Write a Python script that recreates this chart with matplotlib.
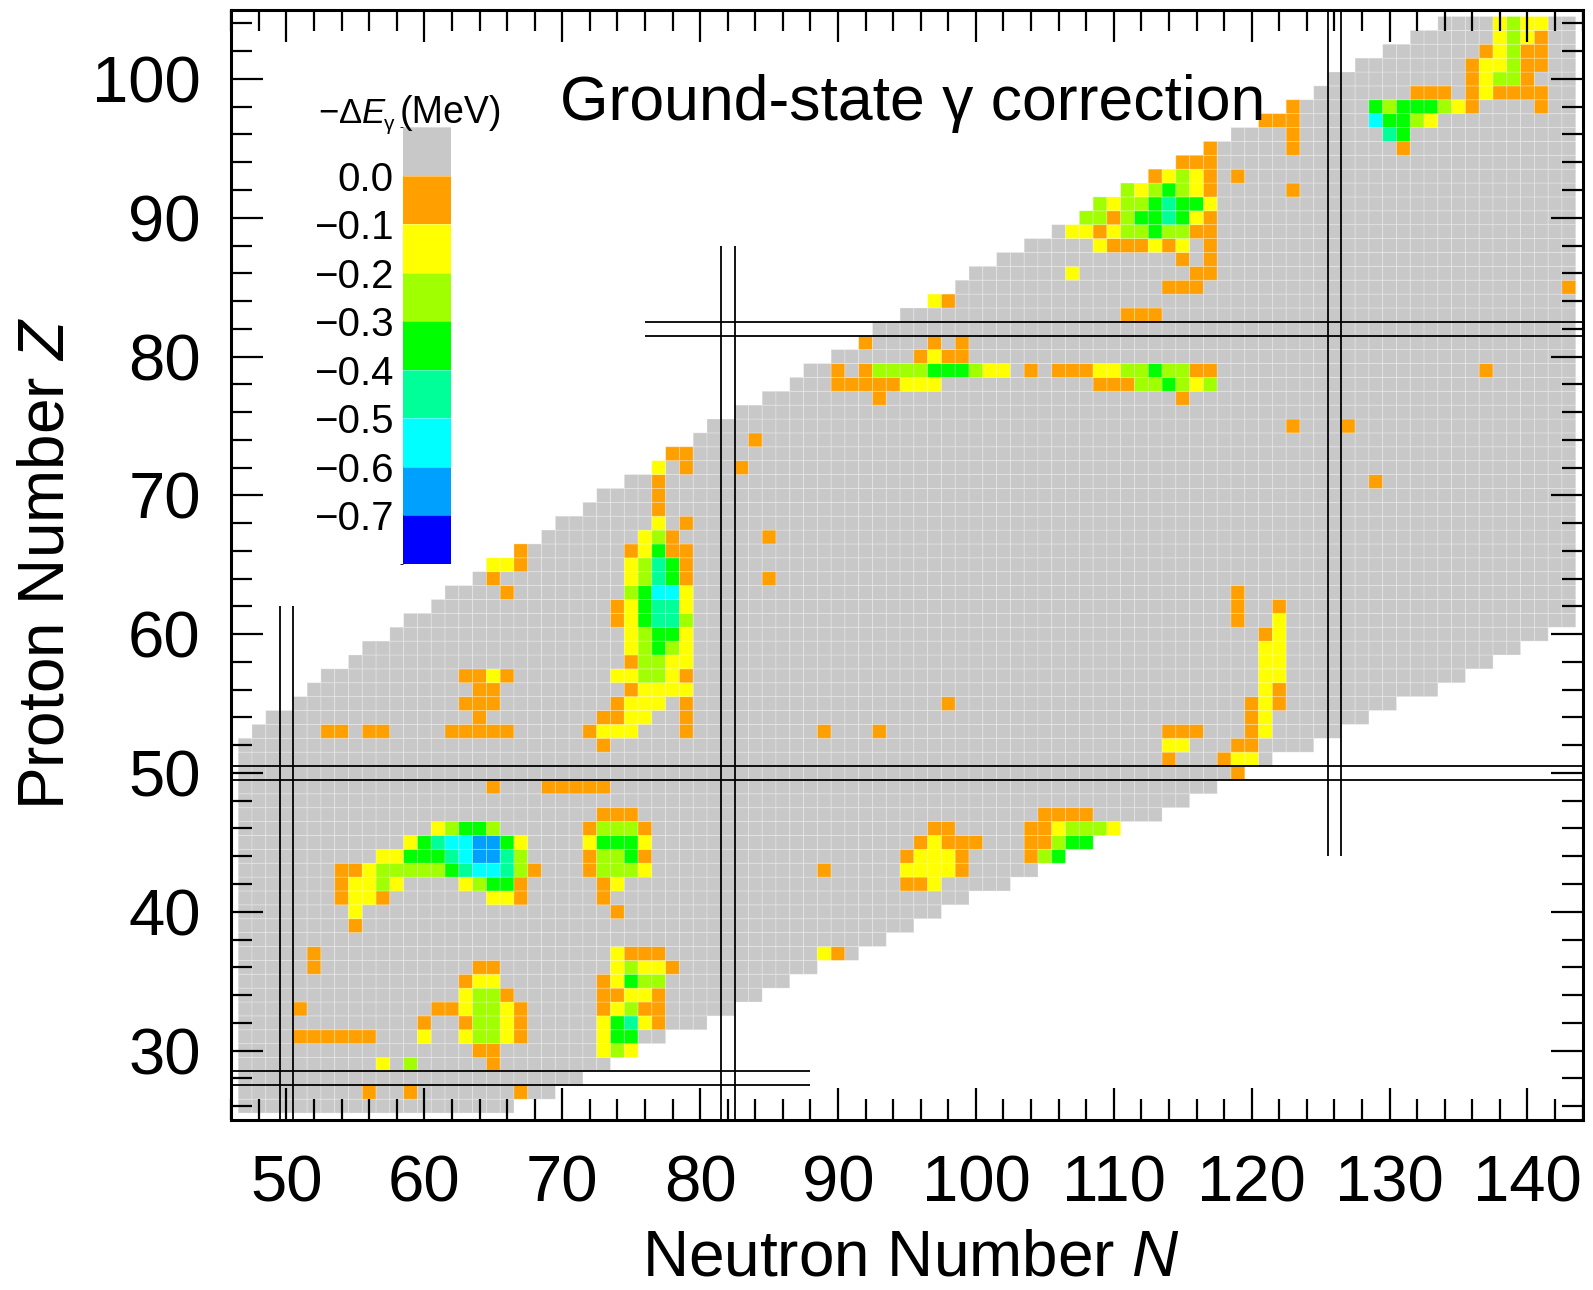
import numpy as np
import matplotlib
matplotlib.use("Agg")
import matplotlib.pyplot as plt
from matplotlib.colors import ListedColormap, BoundaryNorm
from matplotlib.cm import ScalarMappable
from matplotlib.ticker import MultipleLocator

plt.rcParams['font.family'] = ['Liberation Sans', 'DejaVu Sans']
plt.rcParams['mathtext.fontset'] = 'custom'
plt.rcParams['mathtext.rm'] = 'Liberation Sans'
plt.rcParams['mathtext.it'] = 'Liberation Sans:italic'
plt.rcParams['mathtext.bf'] = 'Liberation Sans:bold'

# ---------------- data ----------------
# nuclei present in the chart: for each proton number Z, first and last N
z_rows = list(range(26, 105))
n_first = [47] * 27 + [48, 49, 51, 52, 53, 55, 56, 58, 59, 61, 62, 64, 65, 67, 69, 70,
                       72, 73, 75, 77, 78, 80, 81, 83, 85, 87, 88, 90, 92, 93, 95, 97,
                       99, 100, 102, 104, 106, 108, 109, 111, 113, 115, 117, 119, 121,
                       123, 125, 126, 128, 130, 132, 134]
n_last = [66, 69, 71, 73, 75, 77, 80, 82, 84, 86, 88, 91, 93, 95, 97, 99, 102, 104, 106,
          108, 110, 113, 115, 117, 119, 121, 124, 126, 128, 130, 133, 135, 137, 139, 141] + [143] * 44

# correction level per nucleus (1: 0..-0.1, 2: -0.1..-0.2, ... 8: -0.7..-0.8), runs along N
seg_z = [27, 27, 27, 29, 29, 29, 30, 30, 31, 31, 31, 31, 32, 32, 32, 33, 33, 33, 34, 34,
         35, 35, 36, 36, 36, 37, 37, 37, 39, 40, 40, 41, 41, 41, 42, 42, 42, 42, 43, 43,
         43, 43, 44, 44, 44, 44, 45, 45, 45, 45, 46, 46, 46, 46, 47, 47, 49, 49, 50, 51,
         51, 52, 52, 52, 53, 53, 53, 53, 53, 53, 53, 53, 53, 54, 54, 54, 54, 55, 55, 55,
         55, 55, 56, 56, 56, 57, 57, 57, 58, 58, 59, 59, 60, 60, 61, 61, 61, 62, 62, 62,
         63, 63, 63, 64, 64, 64, 65, 65, 66, 66, 67, 67, 68, 68, 69, 70, 71, 71, 72, 72,
         72, 73, 74, 75, 75, 77, 77, 78, 78, 79, 79, 79, 79, 79, 80, 81, 81, 81, 83, 84,
         85, 85, 86, 86, 87, 87, 88, 88, 89, 90, 91, 92, 92, 93, 93, 94, 95, 95, 95, 96,
         96, 97, 97, 98, 98, 98, 99, 99, 100, 101, 102, 103, 104]
seg_n = [56, 59, 67, 57, 59, 65, 64, 73, 51, 60, 63, 73, 60, 63, 73, 51, 61, 73, 63, 73,
         63, 73, 52, 64, 74, 52, 74, 89, 55, 55, 74, 54, 65, 73, 54, 63, 73, 95, 54, 72,
         89, 95, 57, 72, 95, 104, 59, 72, 96, 104, 61, 72, 97, 104, 73, 105, 65, 69, 119, 114,
         118, 73, 114, 119, 53, 56, 62, 72, 79, 89, 93, 114, 120, 64, 73, 79, 120, 63, 74, 79,
         98, 120, 64, 75, 121, 63, 74, 121, 75, 121, 75, 121, 75, 121, 74, 119, 122, 74, 119, 122,
         66, 75, 119, 65, 75, 85, 65, 75, 67, 75, 76, 85, 77, 79, 77, 77, 77, 129, 77, 79,
         83, 78, 84, 123, 127, 93, 115, 90, 109, 90, 92, 104, 106, 137, 96, 92, 97, 99, 111, 97,
         114, 143, 107, 116, 115, 117, 109, 117, 107, 108, 109, 111, 123, 113, 119, 115, 117, 123, 131, 123,
         130, 121, 129, 123, 129, 141, 132, 136, 136, 136, 137, 138, 138]
seg_codes = ["1", "1", "1", "2", "3", "1", "11", "232", "111111", "2", "23321", "244",
             "1", "13321", "24521", "1", "1123321", "12311", "2331", "11221",
             "122", "12433", "1", "11", "23221", "1", "2111", "21", "1", "2", "1",
             "1221", "221", "1", "12232", "23441", "12", "112",
             "112333334566531", "13332", "1", "22221",
             "22444567753", "13341", "12221", "134",
             "245667742", "24442", "12111", "11344",
             "23443", "13331", "11", "1123332", "111", "1111", "1", "11111", "1", "1",
             "122", "1", "22", "11", "11", "11", "11111", "1222", "1", "1", "1", "111", "12",
             "1", "1122", "1", "12", "111", "1222", "1", "1", "121", "11", "12222", "21",
             "1121", "223321", "22", "13322", "22", "23432", "22", "23442", "12",
             "124553", "1", "2", "124552", "1", "1", "1", "34662", "1", "1", "23541", "1",
             "221", "23541", "1", "12411", "231", "1", "2", "1", "1", "1", "1", "1",
             "2", "1", "1", "11", "1", "1", "1", "1", "1", "11111222", "111334323",
             "1", "13333444322", "1", "111223343311", "1", "1211", "1", "1", "1", "111", "21",
             "111", "1", "2", "11", "1", "1", "2111212", "1", "22123343311", "3313445421",
             "323345442", "3234321", "1", "12321", "1", "111", "1", "1", "1", "1",
             "54", "111", "64432", "1", "43444321", "1", "111", "121111", "12331",
             "122311", "12311", "2321", "2322"]

level_bounds = [-0.8, -0.7, -0.6, -0.5, -0.4, -0.3, -0.2, -0.1, 0.0, 0.1]
level_colors = ['#0000ff', '#00a0ff', '#00ffff', '#00ff99', '#00ff00',
                '#a0ff00', '#ffff00', '#ffa000', '#c8c8c8']
cbar_ticks = [-0.7, -0.6, -0.5, -0.4, -0.3, -0.2, -0.1, 0.0]

# magic numbers (double lines at +-0.5) and their extents
magic_z = [28, 50, 82]
magic_z_span = [(46, 88), (46, 144), (76, 144)]
magic_n = [50, 82, 126]
magic_n_span = [(25, 62), (25, 88), (44, 105)]

# ---------------- build grid ----------------
n_lo, n_hi = 47, 143
z_lo, z_hi = z_rows[0], z_rows[-1]
grid = np.full((z_hi - z_lo + 1, n_hi - n_lo + 1), np.nan)
gray_value = 0.05
for z, a, b in zip(z_rows, n_first, n_last):
    grid[z - z_lo, a - n_lo:b - n_lo + 1] = gray_value
for z, n, codes in zip(seg_z, seg_n, seg_codes):
    for i, c in enumerate(codes):
        grid[z - z_lo, n - n_lo + i] = -(int(c) - 0.5) / 10.0
data = np.ma.masked_invalid(grid)

n_edges = np.arange(n_lo - 0.5, n_hi + 1.0, 1.0)
z_edges = np.arange(z_lo - 0.5, z_hi + 1.0, 1.0)

cmap = ListedColormap(level_colors)
norm = BoundaryNorm(level_bounds, cmap.N)

# ---------------- figure ----------------
W, H = 1593, 1290
fig = plt.figure(figsize=(W / 100, H / 100), dpi=100)
ax = fig.add_axes([0.1452, 0.1318, 0.8483, 0.8608])

ax.pcolor(n_edges, z_edges, data, cmap=cmap, norm=norm,
          edgecolors=(1, 1, 1, 0.3), linewidth=0.6, zorder=1)

for m, (a, b) in zip(magic_z, magic_z_span):
    for d in (-0.5, 0.5):
        ax.plot([a, b], [m + d, m + d], color='black', lw=1.3, zorder=3,
                solid_capstyle='butt')
for m, (a, b) in zip(magic_n, magic_n_span):
    for d in (-0.5, 0.5):
        ax.plot([m + d, m + d], [a, b], color='black', lw=1.3, zorder=3,
                solid_capstyle='butt')

ax.set_xlim(46, 144)
ax.set_ylim(25, 105)
ax.xaxis.set_major_locator(MultipleLocator(10))
ax.xaxis.set_minor_locator(MultipleLocator(2))
ax.yaxis.set_major_locator(MultipleLocator(10))
ax.yaxis.set_minor_locator(MultipleLocator(2))
ax.tick_params(which='both', direction='in', top=True, right=True,
               labelsize=47, width=1.6)
ax.tick_params(which='major', length=23)
ax.tick_params(which='minor', length=15)
ax.tick_params(axis='x', pad=25)
ax.tick_params(axis='y', pad=22)
for s in ax.spines.values():
    s.set_linewidth(2.2)
    s.set_zorder(5)

# axis labels
fig.text(911 / W, 1 - 1276 / H, 'Neutron Number $N$', fontsize=46,
         ha='center', va='baseline')
ax.set_ylabel('Proton Number $Z$', fontsize=46)
ax.yaxis.set_label_coords(-0.137, 0.5016)
ax.yaxis.label.set_va('center')

fig.text(0.3514, 0.907, 'Ground-state γ correction', fontsize=45,
         ha='left', va='baseline')

# ---------------- colour bar ----------------
cax = fig.add_axes([403.3 / W, 1 - 564 / H, 48 / W, 437 / H])
cb = fig.colorbar(ScalarMappable(norm=norm, cmap=cmap), cax=cax,
                  ticks=cbar_ticks, drawedges=True)
cb.outline.set_visible(False)
cb.dividers.set_color((1, 1, 1, 0.35))
cb.dividers.set_linewidth(0.8)
cax.yaxis.set_ticks_position('left')
cax.tick_params(length=0, pad=7, labelsize=29)
cb.set_ticklabels(['0.0' if t == 0 else '\u2212%.1f' % abs(t) for t in cbar_ticks])

base = 1 - 123 / H
fig.text(318 / W, base, '\u2212\u0394$E$', fontsize=25, ha='left', va='baseline')
fig.text(384 / W, base - 7 / H, 'γ', fontsize=15, ha='left', va='baseline')
fig.text(400 / W, base, '(MeV)', fontsize=27, ha='left', va='baseline')

fig.savefig('out.png', dpi=100)
